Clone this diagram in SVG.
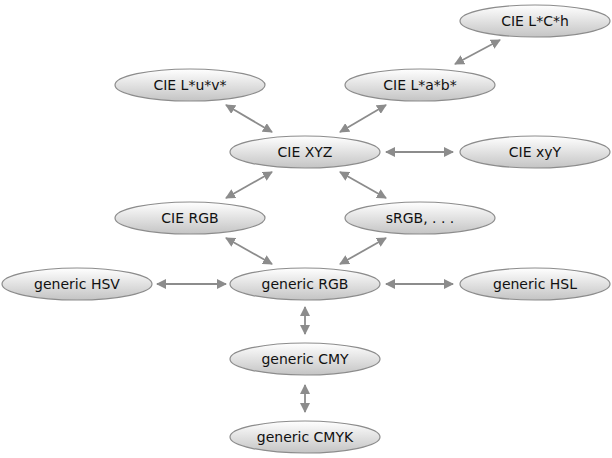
<svg xmlns="http://www.w3.org/2000/svg" width="612" height="458" viewBox="0 0 612 458">
<defs>
<linearGradient id="g" x1="0" y1="0" x2="0" y2="1">
<stop offset="0" stop-color="#ffffff"/>
<stop offset="1" stop-color="#c4c4c4"/>
</linearGradient>
<marker id="ah" viewBox="0 0 10 10" refX="9" refY="5" markerWidth="10" markerHeight="10" markerUnits="userSpaceOnUse" orient="auto-start-reverse">
<path d="M0,0 L10,5 L0,10 z" fill="#8c8c8c"/>
</marker>
<style>
.n ellipse{fill:url(#g);stroke:#8c8c8c;stroke-width:1.2}
.n text{font-family:"DejaVu Sans",sans-serif;font-size:14px;fill:#111;text-anchor:middle;dominant-baseline:central}
.e line{stroke:#8c8c8c;stroke-width:1.8;marker-start:url(#ah);marker-end:url(#ah)}
</style>
</defs>
<rect width="612" height="458" fill="#fff"/>
<g class="e" id="connectors">
<line x1="500" y1="40" x2="455" y2="64"/>
<line x1="226" y1="105" x2="272" y2="132"/>
<line x1="386" y1="105" x2="340" y2="132"/>
<line x1="386" y1="152" x2="453" y2="152"/>
<line x1="272" y1="172" x2="226" y2="198"/>
<line x1="340" y1="172" x2="386" y2="198"/>
<line x1="226" y1="238" x2="272" y2="264"/>
<line x1="386" y1="238" x2="340" y2="264"/>
<line x1="157" y1="284" x2="226" y2="284"/>
<line x1="386" y1="284" x2="453" y2="284"/>
<line x1="305" y1="307" x2="305" y2="334"/>
<line x1="305" y1="385" x2="305" y2="412"/>
</g>
<g class="n" id="lch"><ellipse cx="535" cy="21" rx="75" ry="16"/><text x="535" y="21">CIE L*C*h</text></g>
<g class="n" id="luv"><ellipse cx="190" cy="85" rx="75" ry="16"/><text x="190" y="85">CIE L*u*v*</text></g>
<g class="n" id="lab"><ellipse cx="420" cy="85" rx="75" ry="16"/><text x="420" y="85">CIE L*a*b*</text></g>
<g class="n" id="xyz"><ellipse cx="305" cy="152" rx="75" ry="16"/><text x="305" y="152">CIE XYZ</text></g>
<g class="n" id="xyy"><ellipse cx="535" cy="152" rx="75" ry="16"/><text x="535" y="152">CIE xyY</text></g>
<g class="n" id="ciergb"><ellipse cx="190" cy="218" rx="75" ry="16"/><text x="190" y="218">CIE RGB</text></g>
<g class="n" id="srgb"><ellipse cx="420" cy="218" rx="75" ry="16"/><text x="420" y="218">sRGB, . . .</text></g>
<g class="n" id="hsv"><ellipse cx="77" cy="284" rx="75" ry="16"/><text x="77" y="284">generic HSV</text></g>
<g class="n" id="rgb"><ellipse cx="305" cy="284" rx="75" ry="16"/><text x="305" y="284">generic RGB</text></g>
<g class="n" id="hsl"><ellipse cx="535" cy="284" rx="75" ry="16"/><text x="535" y="284">generic HSL</text></g>
<g class="n" id="cmy"><ellipse cx="305" cy="359" rx="75" ry="16"/><text x="305" y="359">generic CMY</text></g>
<g class="n" id="cmyk"><ellipse cx="305" cy="437" rx="75" ry="16"/><text x="305" y="437">generic CMYK</text></g>
</svg>
